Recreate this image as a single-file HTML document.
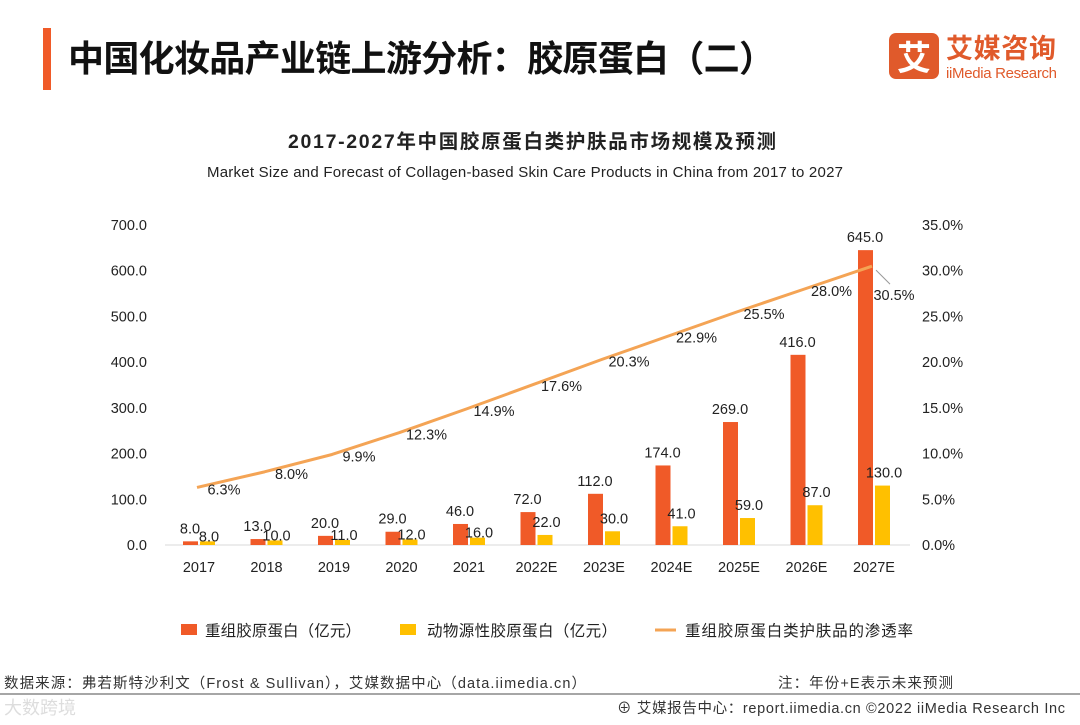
<!DOCTYPE html>
<html><head><meta charset="utf-8"><style>
body{margin:0;background:#fff;}
svg text{font-family:"Liberation Sans","Noto Sans CJK SC",sans-serif;}
</style></head><body>
<svg id="c" width="1080" height="720" viewBox="0 0 1080 720" xmlns="http://www.w3.org/2000/svg">
<rect x="43" y="28" width="8" height="62" fill="#f05a28"/>
<text x="68" y="71" font-size="36" font-weight="bold" fill="#111" textLength="707">中国化妆品产业链上游分析：胶原蛋白（二）</text>
<g>
<rect x="889" y="33" width="50" height="46" rx="7" fill="#e05a2b"/>
<text x="914" y="70" font-size="34" font-weight="bold" fill="#fff" text-anchor="middle">艾</text>
<text x="946" y="58" font-size="27" font-weight="bold" fill="#e05a2b" textLength="110">艾媒咨询</text>
<text x="946" y="78" font-size="15" fill="#e05a2b" textLength="111">iiMedia Research</text>
</g>
<text x="532" y="148" font-size="19.5" font-weight="bold" fill="#222" text-anchor="middle" textLength="488">2017-2027年中国胶原蛋白类护肤品市场规模及预测</text>
<text x="525" y="177" font-size="15" fill="#222" text-anchor="middle" textLength="636">Market Size and Forecast of Collagen-based Skin Care Products in China from 2017 to 2027</text>
<g id="plot"></g>
<g>
<rect x="181" y="624" width="16" height="11" fill="#f05a28"/>
<text x="205" y="636" font-size="15.5" fill="#222" textLength="156">重组胶原蛋白（亿元）</text>
<rect x="400" y="624" width="16" height="11" fill="#ffc000"/>
<text x="427" y="636" font-size="15.5" fill="#222" textLength="190">动物源性胶原蛋白（亿元）</text>
<line x1="655" y1="630" x2="676" y2="630" stroke="#f4a455" stroke-width="3"/>
<text x="685" y="636" font-size="15.5" fill="#222" textLength="228">重组胶原蛋白类护肤品的渗透率</text>
</g>
<text x="4" y="688" font-size="14.5" fill="#333" textLength="582">数据来源：弗若斯特沙利文（Frost &amp; Sullivan），艾媒数据中心（data.iimedia.cn）</text>
<text x="778" y="688" font-size="14.5" fill="#333" textLength="175">注：年份+E表示未来预测</text>
<line x1="0" y1="694" x2="1080" y2="694" stroke="#888" stroke-width="1.5"/>
<text x="4" y="714" font-size="18" fill="#ddd">大数跨境</text>
<text x="617" y="713" font-size="14.5" fill="#333" textLength="448">⊕ 艾媒报告中心：report.iimedia.cn  ©2022 iiMedia Research Inc</text>
</svg>
<script>
const categories=["2017","2018","2019","2020","2021","2022E","2023E","2024E","2025E","2026E","2027E"];
const recombinant=[8,13,20,29,46,72,112,174,269,416,645];
const animal=[8,10,11,12,16,22,30,41,59,87,130];
const rate=[6.3,8.0,9.9,12.3,14.9,17.6,20.3,22.9,25.5,28.0,30.5];
const leftTicks=[0,100,200,300,400,500,600,700];
const rightTicks=[0,5,10,15,20,25,30,35];

const NS="http://www.w3.org/2000/svg";
const g=document.getElementById('plot');
const x0=199,step=67.5,yBase=545,yTop=225;
const xc=i=>x0+i*step;
const yL=v=>yBase-v/700*(yBase-yTop);
const yR=v=>yBase-v/35*(yBase-yTop);
function el(t,a,txt){const e=document.createElementNS(NS,t);for(const k in a)e.setAttribute(k,a[k]);if(txt!=null)e.textContent=txt;g.appendChild(e);return e;}

const ax=el('line',{x1:165,y1:yBase,x2:910,y2:yBase,stroke:'#d9d9d9','stroke-width':1});


leftTicks.forEach(v=>{const t=el('text',{x:147,y:yL(v)+5,'font-size':14.5,fill:'#222','text-anchor':'end'},v.toFixed(1));

});
rightTicks.forEach(v=>{const t=el('text',{x:922,y:yR(v)+5,'font-size':14.5,fill:'#222'},v.toFixed(1)+'%');

});
categories.forEach((c,i)=>{const t=el('text',{x:xc(i),y:572,'font-size':14.5,fill:'#222','text-anchor':'middle'},c);

});
recombinant.forEach((v,i)=>{const r=el('rect',{x:xc(i)-16,y:yL(v),width:15,height:yBase-yL(v),fill:'#f05a28'});


const t=el('text',{x:xc(i)-9,y:yL(v)-8,'font-size':14.5,fill:'#222','text-anchor':'middle'},v.toFixed(1));

});
animal.forEach((v,i)=>{const r=el('rect',{x:xc(i)+1,y:yL(v),width:15,height:yBase-yL(v),fill:'#ffc000'});


const t=el('text',{x:xc(i)+10,y:yL(v)-2+(v<20?2:-6),'font-size':14.5,fill:'#222','text-anchor':'middle'},v.toFixed(1));

});
const pts=rate.map((v,i)=>[xc(i)-2,yR(v)]);
const ln=el('polyline',{points:pts.map(p=>p.join(',')).join(' '),fill:'none',stroke:'#f4a455','stroke-width':3,'stroke-linejoin':'round'});


rate.forEach((v,i)=>{const last=i===rate.length-1;
let lx=pts[i][0]+27, ly=pts[i][1]+7;
if(last){lx=pts[i][0]+22;ly=pts[i][1]+34;
const l=el('line',{x1:pts[i][0]+4,y1:pts[i][1]+4,x2:pts[i][0]+18,y2:pts[i][1]+18,stroke:'#999','stroke-width':1});

}
const t=el('text',{x:lx,y:ly,'font-size':14.5,fill:'#222','text-anchor':'middle'},v.toFixed(1)+'%');

});
</script>
</body></html>
